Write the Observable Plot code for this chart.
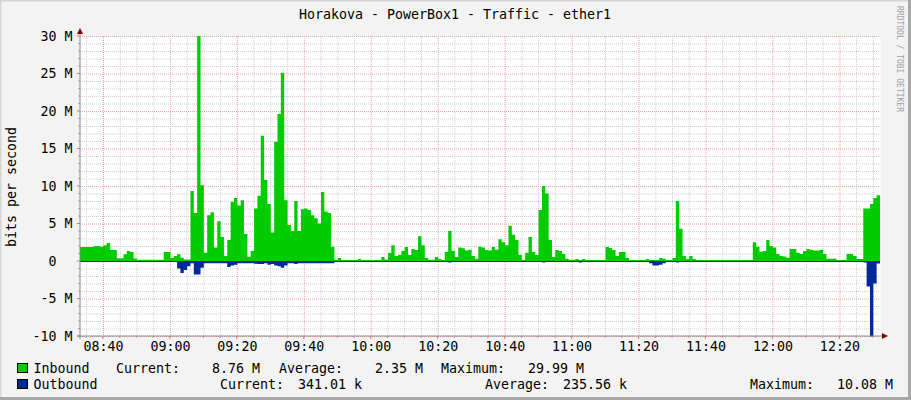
<!DOCTYPE html>
<html><head><meta charset="utf-8">
<script src="https://cdn.jsdelivr.net/npm/d3@7"></script>
<script src="https://cdn.jsdelivr.net/npm/@observablehq/plot@0.6"></script>
<style>
html,body{margin:0;padding:0;background:#f3f3f3;}
#chart{width:911px;height:400px;position:relative;}
svg{display:block;}
</style></head><body><div id="chart"></div>
<script>
// ---- data (values in Mbit/s, one sample per minute) ----
const title = "Horakova - PowerBox1 - Traffic - ether1";
const yLabel = "bits per second";
const watermark = "RRDTOOL / TOBI OETIKER";
const startClock = [8, 33, 8];      // first sample time (h, m, s)
const stepMinutes = 1;
const inbound = [
  1.87,1.87,1.87,1.87,2.0,2.0,1.9,2.1,2.4,1.47,
  1.47,0.36,0.36,0.9,1.33,1.2,0.35,0.18,0.18,0.18,
  0.18,0.18,0.18,0.18,0.18,1.2,1.2,0.4,0.67,0.9,
  0.44,0.2,0.2,9.33,6.4,29.99,10.1,1.1,6.1,6.5,
  1.8,5.3,3.2,0.67,2.8,7.9,8.4,7.4,8.1,3.6,
  0.58,1.33,7.0,8.7,16.7,10.8,7.6,3.8,15.9,19.6,
  25.1,8.1,4.8,4.0,8.0,4.0,6.9,7.0,6.8,6.1,
  5.7,5.0,9.2,6.6,6.4,1.9,0.13,0.4,0.13,0.13,
  0.13,0.13,0.13,0.27,0.13,0.13,0.13,0.13,0.13,0.13,
  0.53,0.2,1.07,2.1,0.67,0.8,1.33,1.87,0.8,1.6,
  1.47,3.3,2.1,0.4,0.18,0.18,0.53,0.27,0.13,1.2,
  4.0,1.33,0.53,1.8,1.7,1.4,1.5,0.67,0.3,1.9,
  1.8,1.47,1.4,1.87,1.5,2.9,2.5,2.1,4.7,3.5,
  2.8,0.8,0.18,1.1,3.2,1.2,0.8,6.8,10.0,9.0,
  2.8,0.53,1.47,1.33,0.93,0.3,0.18,0.18,0.27,0.13,
  0.27,0.13,0.13,0.13,0.13,0.13,0.13,1.87,1.73,1.47,
  0.67,1.2,1.2,0.4,0.13,0.13,0.13,0.13,0.13,0.27,
  0.13,0.13,0.13,0.4,0.3,0.13,0.13,0.4,8.0,4.3,
  0.67,0.27,0.67,0.27,0.13,0.13,0.13,0.13,0.13,0.13,
  0.13,0.13,0.13,0.13,0.13,0.13,0.13,0.13,0.13,0.13,
  0.13,2.5,1.9,1.25,1.33,2.8,2.0,1.8,0.93,0.67,
  0.6,0.44,1.6,1.6,1.1,0.93,1.33,1.6,1.5,1.4,
  1.4,1.5,0.93,0.3,0.3,0.3,0.13,0.13,0.13,0.93,
  0.93,0.67,0.27,0.27,7.0,7.0,7.6,8.4,8.76
];
const outbound = [
  0.06,0.06,0.06,0.06,0.06,0.06,0.06,0.06,0.06,0.06,
  0.06,0.06,0.06,0.06,0.06,0.06,0.06,0.06,0.06,0.06,
  0.06,0.06,0.06,0.06,0.06,0.06,0.06,0.06,0.06,1.0,
  1.6,1.2,0.7,0.3,1.8,1.8,0.9,0.3,0.3,0.3,
  0.3,0.3,0.3,0.3,0.8,0.6,0.5,0.3,0.3,0.3,
  0.3,0.3,0.35,0.4,0.4,0.3,0.5,0.4,0.6,0.7,
  0.9,0.6,0.3,0.3,0.4,0.3,0.3,0.3,0.3,0.3,
  0.3,0.3,0.3,0.3,0.3,0.3,0.06,0.06,0.06,0.06,
  0.06,0.06,0.06,0.06,0.06,0.06,0.06,0.06,0.06,0.06,
  0.06,0.06,0.06,0.06,0.06,0.06,0.06,0.06,0.06,0.06,
  0.06,0.06,0.06,0.06,0.06,0.06,0.06,0.06,0.06,0.06,
  0.2,0.06,0.06,0.06,0.06,0.06,0.06,0.06,0.06,0.06,
  0.06,0.06,0.06,0.06,0.06,0.06,0.06,0.06,0.06,0.06,
  0.06,0.06,0.06,0.06,0.06,0.06,0.06,0.06,0.2,0.06,
  0.06,0.06,0.06,0.06,0.06,0.06,0.06,0.06,0.06,0.2,
  0.06,0.06,0.06,0.06,0.06,0.06,0.06,0.06,0.06,0.06,
  0.06,0.06,0.06,0.06,0.06,0.06,0.06,0.06,0.06,0.06,
  0.3,0.6,0.6,0.5,0.3,0.06,0.06,0.06,0.2,0.06,
  0.06,0.06,0.06,0.06,0.06,0.06,0.06,0.06,0.06,0.06,
  0.06,0.06,0.06,0.06,0.06,0.06,0.06,0.06,0.06,0.06,
  0.06,0.06,0.06,0.06,0.06,0.06,0.06,0.06,0.06,0.06,
  0.06,0.06,0.06,0.06,0.06,0.06,0.06,0.06,0.06,0.06,
  0.06,0.06,0.06,0.06,0.06,0.06,0.06,0.06,0.06,0.06,
  0.06,0.06,0.06,0.06,0.2,3.4,10.08,3.0,0.341
];
const yTicks = [-10, -5, 0, 5, 10, 15, 20, 25, 30];
const yTickLabels = ["-10 M", "-5 M", "0", "5 M", "10 M", "15 M", "20 M", "25 M", "30 M"];
const xTickLabels = ["08:40","09:00","09:20","09:40","10:00","10:20","10:40","11:00","11:20","11:40","12:00","12:20"];
const seriesNames = ["Inbound", "Outbound"];
const seriesColors = ["#00cc00", "#002a97"];
const currentVals = ["8.76 M", "341.01 k"];
const averageVals = ["2.35 M", "235.56 k"];
const maximumVals = ["29.99 M", "10.08 M"];

(function () {
// ---- derived ----
const DAY = [2000, 0, 1];
const t0 = new Date(Date.UTC(...DAY, ...startClock));
const tAt = i => new Date(+t0 + i * stepMinutes * 60000);
const t1 = tAt(inbound.length);
const rows = inbound.map((v, i) => ({t: tAt(i), inb: v, out: -outbound[i]}));
rows.push({t: t1, inb: inbound[inbound.length - 1], out: -outbound[outbound.length - 1]});
const parseHM = s => { const [h, m] = s.split(":").map(Number); return new Date(Date.UTC(...DAY, h, m, 0)); };
const xTickDates = xTickLabels.map(parseHM);
const minorX = d3.utcMinute.every(5).range(t0, t1).filter(d => d.getUTCMinutes() % 20 !== 0);
const majorX = d3.utcMinute.every(20).range(t0, t1);
const minorY = d3.range(-10, 31, 1).filter(v => v % 5 !== 0);
const majorY = yTicks;

const FONT = "DejaVu Sans Mono";
const FS = "13.3px";
const minorC = "#cfcfcf", majorC = "#f2a0a0";
const labelOf = d => yTickLabels[yTicks.indexOf(d)];
const hasUnit = d => /\s/.test(labelOf(d));
// labels without a unit keep the unit column ("x M") blank so digits line up
const yTicksUnit = yTicks.filter(hasUnit), yTicksBare = yTicks.filter(d => !hasUnit(d));
const textOpts = {x: () => t0, y: d => d, text: labelOf, textAnchor: "end", lineAnchor: "middle",
  fontFamily: FONT, fontSize: 13.3, fill: "#000"};

const plot = Plot.plot({
  width: 911, height: 400,
  marginLeft: 80, marginRight: 31, marginTop: 36, marginBottom: 64,
  style: {background: "transparent", fontFamily: FONT, fontSize: FS, color: "#000"},
  x: {type: "utc", domain: [t0, t1]},
  y: {domain: [-10, 30], axis: null},
  marks: [
    Plot.frame({fill: "white", stroke: "none"}),
    Plot.ruleY(minorY, {stroke: minorC, strokeDasharray: "1,1"}),
    Plot.ruleX(minorX, {stroke: minorC, strokeDasharray: "1,1"}),
    Plot.ruleY(majorY, {stroke: majorC, strokeDasharray: "1,1"}),
    Plot.ruleX(majorX, {stroke: majorC, strokeDasharray: "1,1"}),
    Plot.areaY(rows, {x: "t", y: "inb", curve: "step-after", fill: seriesColors[0]}),
    Plot.areaY(rows, {x: "t", y: "out", curve: "step-after", fill: seriesColors[1]}),
    Plot.ruleY([0], {stroke: seriesColors[1], strokeWidth: 1}),
    Plot.text(yTicksUnit, {...textOpts, dx: -8}),
    Plot.text(yTicksBare, {...textOpts, dx: -24}),
    Plot.axisX({ticks: xTickDates, tickFormat: d => xTickLabels[xTickDates.findIndex(e => +e === +d)], tickSize: 0, tickPadding: 5, label: null, fontFamily: FONT, fontSize: FS, fill: "#000"})
  ]
});
document.getElementById("chart").appendChild(plot);

const svg = d3.select(plot);
const xs = plot.scale("x"), ys = plot.scale("y");
const X = d => xs.apply(d), Y = v => ys.apply(v);
const pL = X(t0), pR = X(t1), pT = Y(30), pB = Y(-10);
const g = svg.append("g").attr("text-anchor", "start");

// axis tick marks
minorY.forEach(v => g.append("line").attr("x1", pL - 2).attr("x2", pL).attr("y1", Y(v)).attr("y2", Y(v)).attr("stroke", "#aaa"));
majorY.forEach(v => g.append("line").attr("x1", pL - 3).attr("x2", pL).attr("y1", Y(v)).attr("y2", Y(v)).attr("stroke", "#e07070"));
minorX.forEach(d => g.append("line").attr("x1", X(d)).attr("x2", X(d)).attr("y1", pB).attr("y2", pB + 2).attr("stroke", "#aaa"));
majorX.forEach(d => g.append("line").attr("x1", X(d)).attr("x2", X(d)).attr("y1", pB).attr("y2", pB + 3).attr("stroke", "#e07070"));
// axes with arrows
g.append("line").attr("x1", pL).attr("x2", pL).attr("y1", pB + 3).attr("y2", pT - 4).attr("stroke", "#8a8a8a");
g.append("line").attr("x1", pL - 3).attr("x2", pR + 4).attr("y1", pB).attr("y2", pB).attr("stroke", "#8a8a8a");
g.append("path").attr("d", `M${pL - 3},${pT - 2} L${pL + 3},${pT - 2} L${pL},${pT - 8} Z`).attr("fill", "#7f0000");
g.append("path").attr("d", `M${pR + 2},${pB - 3} L${pR + 2},${pB + 3} L${pR + 8},${pB} Z`).attr("fill", "#7f0000");

// title, y label, watermark
const txt = (x, y, s, opts = {}) => g.append("text").attr("x", x).attr("y", y).text(s)
  .attr("font-family", FONT).attr("font-size", opts.size || FS).attr("fill", opts.fill || "#000")
  .attr("text-anchor", opts.anchor || "start");
txt(455, 19, title, {anchor: "middle"});
g.append("text").text(yLabel).attr("transform", `translate(16,187) rotate(-90)`)
  .attr("text-anchor", "middle").attr("font-family", FONT).attr("font-size", FS).attr("fill", "#000");
g.append("text").text(watermark).attr("transform", "translate(897,6) rotate(90)")
  .attr("text-anchor", "start").attr("font-family", FONT).attr("font-size", "8px").attr("fill", "#a0a0a0");

// legend
const rowsY = [373, 389];
const legendCols = [
  {label: "Current:", lx: [116, 220], vx: [260, 362], vals: currentVals},
  {label: "Average:", lx: [279, 485], vx: [423, 627], vals: averageVals},
  {label: "Maximum:", lx: [441, 750], vx: [584, 893], vals: maximumVals}
];
seriesNames.forEach((name, i) => {
  const by = rowsY[i];
  g.append("rect").attr("x", 17.5).attr("y", by - 9.5).attr("width", 10).attr("height", 9)
    .attr("fill", seriesColors[i]).attr("stroke", "#000").attr("stroke-width", 1);
  txt(33.5, by, name);
  legendCols.forEach(c => {
    txt(c.lx[i], by, c.label);
    txt(c.vx[i], by, c.vals[i], {anchor: "end"});
  });
});
// frame shading
g.append("line").attr("x1", 0.75).attr("x2", 0.75).attr("y1", 0).attr("y2", 400).attr("stroke", "#d6d6d6").attr("stroke-width", 1.5);
g.append("line").attr("x1", 0).attr("x2", 911).attr("y1", 0.75).attr("y2", 0.75).attr("stroke", "#d6d6d6").attr("stroke-width", 1.5);
g.append("line").attr("x1", 909.5).attr("x2", 909.5).attr("y1", 0).attr("y2", 400).attr("stroke", "#a8a8a8").attr("stroke-width", 3);
g.append("line").attr("x1", 0).attr("x2", 911).attr("y1", 398.5).attr("y2", 398.5).attr("stroke", "#a8a8a8").attr("stroke-width", 3);
})();
</script></body></html>
